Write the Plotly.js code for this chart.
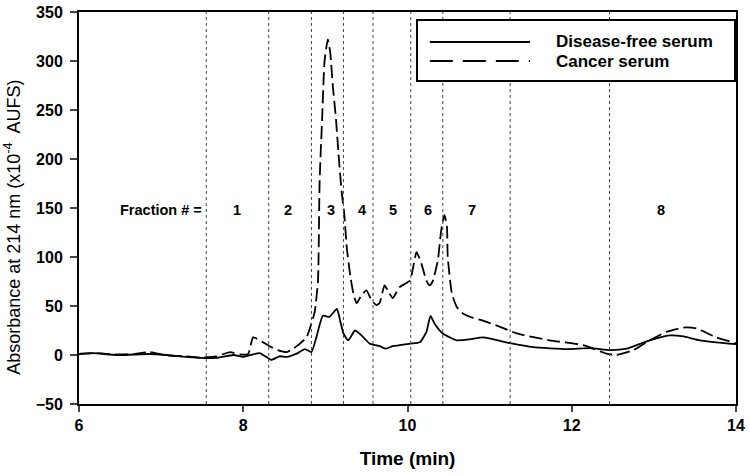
<!DOCTYPE html>
<html>
<head>
<meta charset="utf-8">
<script src="https://cdn.plot.ly/plotly-3.0.1.min.js"></script>
<style>html,body{margin:0;padding:0;background:#fff;}#chart{width:750px;height:476px;}</style>
</head>
<body>
<div id="chart"></div>
<script>
// Disease-free serum (solid)
const timeFree = [6.00,6.17,6.46,6.86,7.06,7.47,7.67,7.88,8.00,8.20,8.34,8.44,8.53,8.65,8.75,8.83,8.89,8.97,9.05,9.14,9.18,9.22,9.28,9.36,9.44,9.54,9.66,9.74,9.82,10.03,10.15,10.23,10.28,10.33,10.43,10.60,10.76,10.92,11.25,11.53,11.94,12.22,12.47,12.67,12.95,13.19,13.36,13.56,14.00];
const absFree  = [1,2,0,1,0,-3,-3,0,-2,2,-5,-1.3,-2,1.4,6,3,18,40,39,47,35,22,15,25,20,11.6,9,6.5,9,11.6,13,23.5,40,32,22,15,16,18,12,8,6,7,5,6.5,15,20,19,15,11];
// Cancer serum (dashed)
const timeCancer = [6.00,6.21,6.46,6.68,6.86,7.06,7.26,7.47,7.67,7.84,7.96,8.06,8.12,8.24,8.34,8.42,8.53,8.61,8.69,8.77,8.83,8.87,8.91,8.93,8.96,8.99,9.03,9.06,9.09,9.13,9.16,9.20,9.23,9.26,9.30,9.34,9.38,9.44,9.50,9.56,9.62,9.66,9.72,9.76,9.82,9.90,10.03,10.07,10.11,10.17,10.23,10.27,10.31,10.37,10.41,10.45,10.48,10.49,10.54,10.60,10.68,10.76,10.92,11.12,11.33,11.73,12.14,12.42,12.54,12.75,12.95,13.15,13.36,13.52,13.76,14.00];
const absCancer  = [1,2,0.5,1,3,-0.5,-1,-2.5,-1.5,3,0.5,1,18,13,8,5,3,6.5,11.6,18,32,44,76,178,240,300,322,308,275,240,205,165,144,110,83,63,53,61,66,56,51,53,71,66,58,69,76,90,105,93,76,71,76,97,127,143,131,100,63,49,42,39,35,29,22,15,10,1.5,0,5,15,23.5,28,27,18,12];
// Fraction boundaries and labels
const fractionBounds = [7.55,8.31,8.83,9.22,9.58,10.04,10.43,11.25,12.46];
const fractionLabels = ["1","2","3","4","5","6","7","8"];
const fractionLabelX = [7.92,8.55,9.07,9.45,9.82,10.25,10.79,13.09];
const fractionLabelY = 148;
const seriesNames = ["Disease-free serum", "Cancer serum"];
const xTicks = [6,8,10,12,14];
const yTicks = [-50,0,50,100,150,200,250,300,350];

const FONT = "Arial, 'Liberation Sans', sans-serif";
const BOLD = (s) => ({family: FONT, size: s, color: '#000', weight: 'bold'});

const traces = [
  {x: timeFree, y: absFree, type: 'scatter', mode: 'lines', name: seriesNames[0],
   line: {color: '#000', width: 1.8, shape: 'spline', smoothing: 0.5}},
  {x: timeCancer, y: absCancer, type: 'scatter', mode: 'lines', name: seriesNames[1],
   line: {color: '#000', width: 1.8, dash: '13px,5px', shape: 'spline', smoothing: 0.5}}
];

// fraction boundary lines
const shapes = fractionBounds.map(b => ({
  type: 'line', xref: 'x', yref: 'paper', x0: b, x1: b, y0: 0, y1: 1,
  line: {color: '#444', width: 1, dash: 'dot'}, layer: 'above'
}));
// legend box (drawn over the boundary lines, as in the original)
shapes.push({type: 'rect', xref: 'paper', yref: 'paper', x0: 0.5145, x1: 0.9985, y0: 0.824, y1: 0.9796,
  fillcolor: '#fff', line: {color: '#000', width: 2}, layer: 'above'});
shapes.push({type: 'line', xref: 'paper', yref: 'paper', x0: 0.534, x1: 0.6865, y0: 0.9235, y1: 0.9235,
  line: {color: '#000', width: 2}, layer: 'above'});
shapes.push({type: 'line', xref: 'paper', yref: 'paper', x0: 0.534, x1: 0.6865, y0: 0.875, y1: 0.875,
  line: {color: '#000', width: 2, dash: '23px,10px'}, layer: 'above'});

const annotations = [
  {x: 6.995, y: fractionLabelY, xref: 'x', yref: 'y', text: 'Fraction # =', showarrow: false, font: BOLD(14.5)}
].concat(fractionLabels.map((t, i) => ({
  x: fractionLabelX[i], y: fractionLabelY, xref: 'x', yref: 'y', text: t, showarrow: false, font: BOLD(14.5)
}))).concat([
  {x: 0.723, y: 0.9235, xref: 'paper', yref: 'paper', xanchor: 'left', yanchor: 'middle',
   text: seriesNames[0], showarrow: false, font: BOLD(17)},
  {x: 0.723, y: 0.873, xref: 'paper', yref: 'paper', xanchor: 'left', yanchor: 'middle',
   text: seriesNames[1], showarrow: false, font: BOLD(17)},
  // y-axis title
  {x: -0.1005, y: 0.452, xref: 'paper', yref: 'paper', xanchor: 'center', yanchor: 'middle',
   textangle: -90, showarrow: false,
   text: 'Absorbance at 214 nm (x10<sup>-4</sup>&nbsp; AUFS)',
   font: {family: FONT, size: 18, color: '#000'}}
]);

const layout = {
  width: 750, height: 476,
  margin: {l: 79, r: 14, t: 12, b: 72},
  paper_bgcolor: '#fff', plot_bgcolor: '#fff',
  font: {family: FONT, color: '#000'},
  showlegend: false,
  xaxis: {range: [6, 14], tickvals: xTicks, ticks: 'outside', ticklen: 6, tickwidth: 2,
    showline: true, linewidth: 2, linecolor: '#000', mirror: true, showgrid: false, zeroline: false,
    tickfont: BOLD(16),
    title: {text: 'Time (min)', standoff: 18, font: BOLD(19)}},
  yaxis: {range: [-50, 350], tickvals: yTicks, ticks: 'outside', ticklen: 7, tickwidth: 2,
    showline: true, linewidth: 2, linecolor: '#000', mirror: true, showgrid: false, zeroline: false,
    ticklabelstandoff: 4,
    tickfont: BOLD(16)},
  shapes: shapes,
  annotations: annotations
};

Plotly.newPlot('chart', traces, layout, {displayModeBar: false, staticPlot: true});
</script>
</body>
</html>
